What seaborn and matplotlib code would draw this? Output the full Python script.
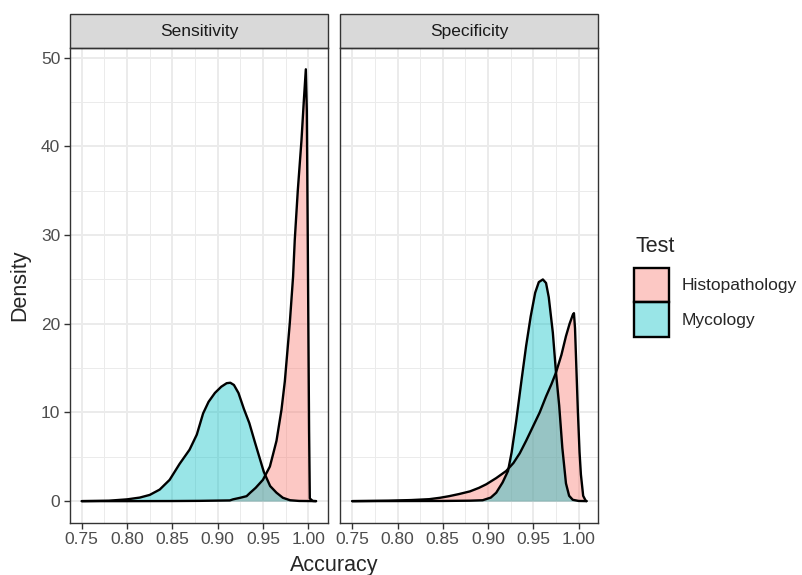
import numpy as np
import pandas as pd
import seaborn as sns
import matplotlib.pyplot as plt
from matplotlib.patches import Patch, Rectangle
from matplotlib.colors import to_rgba

sns.set_style("ticks")
plt.rcParams['font.family'] = ['Liberation Sans', 'DejaVu Sans']

# density curves
sens_histo_x = [0.750, 0.800, 0.850, 0.880, 0.900, 0.9135, 0.917, 0.925, 0.932, 0.936,
                0.942, 0.950, 0.9577, 0.961, 0.965, 0.9705, 0.9742, 0.9797, 0.9833,
                0.9852, 0.9885, 0.9926, 0.9951, 0.9974, 0.9985, 0.9995, 1.0003, 1.0010,
                1.0018, 1.0050, 1.0087]
sens_histo_y = [0.0, 0.0, 0.01, 0.03, 0.06, 0.08, 0.2, 0.38, 0.56, 0.95,
                1.5, 2.4, 3.9, 5.2, 6.8, 10.3, 13.5, 20.1, 25.3,
                29.5, 35.0, 40.7, 45.0, 48.7, 44.0, 30.0, 18.0, 8.0,
                0.3, 0.02, 0.0]

sens_myco_x = [0.750, 0.780, 0.800, 0.814, 0.825, 0.836, 0.847, 0.858, 0.869, 0.877,
               0.884, 0.890, 0.897, 0.904, 0.910, 0.914, 0.918, 0.923, 0.929, 0.935,
               0.941, 0.946, 0.951, 0.958, 0.965, 0.972, 0.980, 0.990, 1.0087]
sens_myco_y = [0.0, 0.05, 0.2, 0.4, 0.7, 1.3, 2.4, 4.2, 5.8, 7.5,
               9.9, 11.2, 12.2, 12.9, 13.3, 13.35, 13.1, 12.2, 10.4, 8.8,
               6.7, 5.0, 3.3, 1.7, 0.95, 0.38, 0.1, 0.02, 0.0]

spec_histo_x = [0.750, 0.790, 0.815, 0.835, 0.847, 0.857, 0.868, 0.880, 0.890, 0.898,
                0.909, 0.920, 0.928, 0.935, 0.942, 0.9495, 0.957, 0.964, 0.970, 0.975,
                0.981, 0.986, 0.990, 0.9935, 0.9948, 0.996, 0.9975, 0.9992, 1.001,
                1.0025, 1.005, 1.0075, 1.0087]
spec_histo_y = [0.0, 0.05, 0.12, 0.22, 0.38, 0.56, 0.8, 1.1, 1.5, 1.9,
                2.6, 3.4, 4.3, 5.4, 6.8, 8.4, 10.0, 11.8, 13.2, 14.5,
                16.5, 18.6, 20.0, 21.0, 21.2, 19.5, 15.0, 10.0, 5.5,
                3.0, 0.6, 0.1, 0.0]

spec_myco_x = [0.750, 0.850, 0.880, 0.894, 0.903, 0.909, 0.916, 0.922, 0.926, 0.931,
               0.937, 0.942, 0.947, 0.952, 0.956, 0.9605, 0.964, 0.967, 0.9715, 0.975,
               0.9785, 0.982, 0.986, 0.9895, 0.9935, 1.000, 1.0087]
spec_myco_y = [0.0, 0.02, 0.05, 0.1, 0.4, 0.95, 2.1, 3.4, 5.5, 9.0,
               13.7, 17.5, 20.8, 23.5, 24.7, 25.0, 24.6, 23.0, 19.0, 14.5,
               10.8, 6.0, 2.0, 0.6, 0.15, 0.02, 0.0]

measures = ["Sensitivity", "Specificity"]
tests = ["Histopathology", "Mycology"]
test_colors = ["#F8766D", "#00BFC4"]
x_ticks = [0.75, 0.80, 0.85, 0.90, 0.95, 1.00]
y_ticks = [0, 10, 20, 30, 40, 50]


def make_frame(xs, ys, measure, test):
    return pd.DataFrame({"Accuracy": xs, "Density": ys, "Measure": measure, "Test": test})


df = pd.concat([
    make_frame(sens_histo_x, sens_histo_y, "Sensitivity", "Histopathology"),
    make_frame(sens_myco_x, sens_myco_y, "Sensitivity", "Mycology"),
    make_frame(spec_histo_x, spec_histo_y, "Specificity", "Histopathology"),
    make_frame(spec_myco_x, spec_myco_y, "Specificity", "Mycology"),
], ignore_index=True)


def draw_density(x, y, color=None, label=None, **kws):
    ax = plt.gca()
    ax.fill_between(x, y, color=color, alpha=0.4, linewidth=0, zorder=2)
    ax.plot(x, y, color="black", linewidth=1.7, zorder=3)


g = sns.FacetGrid(df, col="Measure", col_order=measures, hue="Test", hue_order=tests,
                  palette=test_colors, despine=False, sharex=True, sharey=True)
g.map(draw_density, "Accuracy", "Density")
g.figure.set_size_inches(8.02, 5.75)
g.figure.subplots_adjust(left=0.0873, right=0.746, bottom=0.091, top=0.9165, wspace=0.049)
g.set_titles("")
g.set_axis_labels("", "")

strip_h = 34 / 474.7
tick_color = "#4D4D4D"
for i, ax in enumerate(g.axes.flat):
    ax.set_xlim(0.737, 1.0217)
    ax.set_ylim(-2.43, 51.1)
    ax.set_xticks(x_ticks)
    ax.set_xticklabels([f"{v:.2f}" for v in x_ticks])
    ax.set_yticks(y_ticks)
    ax.set_xticks([0.775, 0.825, 0.875, 0.925, 0.975], minor=True)
    ax.set_yticks([5, 15, 25, 35, 45], minor=True)
    ax.set_axisbelow(True)
    ax.grid(which="major", color="#EBEBEB", linewidth=1.4)
    ax.grid(which="minor", color="#EBEBEB", linewidth=0.7)
    ax.tick_params(which="minor", length=0)
    ax.tick_params(which="major", length=4.5, width=1.0, color="#333333",
                   labelsize=12.5, labelcolor=tick_color, pad=2.5)
    for sp in ax.spines.values():
        sp.set_color("#333333")
        sp.set_linewidth(1.0)
    if i > 0:
        ax.tick_params(axis="y", left=False, labelleft=False)
    ax.add_patch(Rectangle((0, 1), 1, strip_h, transform=ax.transAxes, clip_on=False,
                           facecolor="#D9D9D9", edgecolor="#333333", linewidth=1.0))
    ax.text(0.5, 1 + strip_h / 2, measures[i], transform=ax.transAxes, ha="center",
            va="center", fontsize=12.5, color="#1A1A1A")

fig = g.figure
fig.text(0.4167, 1 - 571 / 575, "Accuracy", ha="center", va="baseline", fontsize=15.5)
fig.text(20 / 802, 0.5037, "Density", ha="center", va="center", rotation=90, fontsize=15.5)

handles = [Patch(facecolor=to_rgba(c, 0.4), edgecolor="black", linewidth=1.7) for c in test_colors]
fig.legend(handles, tests, loc="upper left", bbox_to_anchor=(634 / 802, 1 - 267.5 / 575),
           frameon=False, borderpad=0, borderaxespad=0, labelspacing=0,
           handlelength=2.0, handleheight=2.7, handletextpad=0.77, fontsize=12.5)
fig.text(635 / 802, 1 - 252.5 / 575, "Test", ha="left", va="baseline", fontsize=15.5)

fig.savefig("out.png", dpi=100)
